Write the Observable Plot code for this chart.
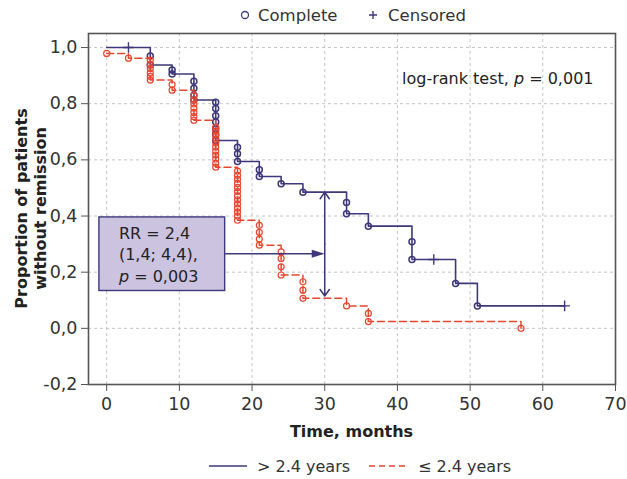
<!DOCTYPE html>
<html><head><meta charset="utf-8">
<script src="https://cdn.jsdelivr.net/npm/d3@7"></script>
<script src="https://cdn.jsdelivr.net/npm/@observablehq/plot@0.6"></script>
<style>
body{margin:0;background:#fff;}
#wrap{position:relative;width:627px;height:479px;overflow:hidden;}
</style></head><body><div id="wrap"></div>
<script>
// ---- data ----
const xTicks = [0, 10, 20, 30, 40, 50, 60, 70];
const yTicks = [-0.2, 0, 0.2, 0.4, 0.6, 0.8, 1.0];
const groupLabels = ["> 2.4 years", "\u2264 2.4 years"];
const markerLabels = ["Complete", "Censored"];

// group > 2.4 years (solid)
const blueStepT = [0, 6, 9, 12, 15, 18, 21, 24, 27, 33, 36, 42, 48, 51, 63];
const blueStepS = [1.0, 0.938, 0.906, 0.813, 0.669, 0.594, 0.541, 0.515, 0.485, 0.408, 0.364, 0.245, 0.16, 0.08, 0.08];
const blueEvents = [
  [6, [0.97, 0.938]], [9, [0.92, 0.906]], [12, [0.88, 0.855, 0.83, 0.813]],
  [15, [0.805, 0.783, 0.757, 0.735, 0.71, 0.69, 0.669]], [18, [0.645, 0.622, 0.594]],
  [21, [0.565, 0.541]], [24, [0.515]], [27, [0.485]], [33, [0.448, 0.408]],
  [36, [0.364]], [42, [0.308, 0.245]], [48, [0.16]], [51, [0.08]]
];
const blueCensT = [3, 45, 63];
const blueCensS = [1.0, 0.245, 0.08];

// group <= 2.4 years (dashed)
const redStepT = [0, 3, 6, 9, 12, 15, 18, 21, 24, 27, 33, 36, 57];
const redStepS = [0.979, 0.962, 0.884, 0.848, 0.741, 0.574, 0.385, 0.296, 0.19, 0.107, 0.08, 0.024, 0.0];
const redEvents = [
  [0, [0.979]], [3, [0.962]], [6, [0.955, 0.94, 0.925, 0.91, 0.897, 0.884]],
  [9, [0.868, 0.848]], [12, [0.829, 0.814, 0.799, 0.784, 0.769, 0.754, 0.741]],
  [15, [0.716, 0.702, 0.688, 0.674, 0.66, 0.645, 0.631, 0.617, 0.603, 0.588, 0.574]],
  [18, [0.56, 0.545, 0.531, 0.516, 0.502, 0.487, 0.472, 0.458, 0.443, 0.428, 0.414, 0.4, 0.385]],
  [21, [0.367, 0.342, 0.318, 0.296]], [24, [0.272, 0.249, 0.219, 0.19]],
  [27, [0.166, 0.136, 0.107]], [33, [0.08]], [36, [0.053, 0.024]], [57, [0.0]]
];

// annotations
const rrText = ["RR = 2,4", "(1,4; 4,4),", " = 0,003"];
const logRankText = ["log-rank test, ", "p", " = 0,001"];
const rrBox = {x1: -1, x2: 16.3, y1: 0.133, y2: 0.395};
const rrArrowY = 0.266;
const diffAt = 30, diffTop = 0.485, diffBottom = 0.115;

// ---- build tables ----
const blue = "#3d387a", red = "#e8462e", axisGray = "#555", textGray = "#333";
const blueSteps = blueStepT.map((t, i) => ({t, s: blueStepS[i]}));
const redSteps = redStepT.map((t, i) => ({t, s: redStepS[i]}));
const flat = ev => ev.flatMap(([t, ss]) => ss.map(s => ({t, s})));
const blueDots = flat(blueEvents), redDots = flat(redEvents);
const blueCens = blueCensT.map((t, i) => ({t, s: blueCensS[i]}));
const fmt = d => d.toFixed(1).replace(".", ",");

const headRight = {draw(ctx) { ctx.moveTo(0, 0); ctx.lineTo(-13, -4); ctx.lineTo(-13, 4); ctx.closePath(); }};
const mid = (diffTop + diffBottom) / 2;

const plot = Plot.plot({
  width: 627, height: 479,
  marginLeft: 88, marginRight: 12, marginTop: 33, marginBottom: 95,
  style: {fontFamily: '"DejaVu Sans", sans-serif', fontSize: "17px", background: "white", color: textGray},
  x: {domain: [-2.5, 70]},
  y: {domain: [-0.2, 1.05]},
  marks: [
    Plot.ruleX(xTicks, {x: d => d, stroke: "#bdbdbd", strokeDasharray: "3,3", strokeWidth: 0.9}),
    Plot.ruleY(yTicks, {y: d => d, stroke: "#bdbdbd", strokeDasharray: "3,3", strokeWidth: 0.9}),
    Plot.axisX(xTicks, {tickSize: 7, tickPadding: 6, label: null, stroke: axisGray, fill: textGray, fontSize: 17.5}),
    Plot.axisY(yTicks, {tickSize: 7, tickPadding: 4, label: null, tickFormat: fmt, stroke: axisGray, fill: textGray, fontSize: 17.5}),
    Plot.line(blueSteps, {x: "t", y: "s", curve: "step-after", stroke: blue, strokeWidth: 1.6}),
    Plot.dot(blueDots, {x: "t", y: "s", r: 3, stroke: blue, strokeWidth: 1.5, fill: "none"}),
    Plot.dot(blueCens, {x: "t", y: "s", symbol: "plus", r: 3.5, stroke: blue, strokeWidth: 1.4}),
    Plot.line(redSteps, {x: "t", y: "s", curve: "step-after", stroke: red, strokeWidth: 1.5, strokeDasharray: "7,4"}),
    Plot.dot(redDots, {x: "t", y: "s", r: 3, stroke: red, strokeWidth: 1.2, fill: "none"}),
    Plot.rect([rrBox], {x1: "x1", x2: "x2", y1: "y1", y2: "y2", fill: "#cbc3df", stroke: blue, strokeWidth: 1.4}),
    Plot.link([{x1: rrBox.x2, x2: diffAt - 1.2}], {x1: "x1", x2: "x2", y1: rrArrowY, y2: rrArrowY, stroke: blue, strokeWidth: 1.5}),
    Plot.dot([{x: diffAt, y: rrArrowY}], {x: "x", y: "y", symbol: headRight, fill: blue, stroke: "none"}),
    Plot.arrow([{x1: diffAt, y1: mid, x2: diffAt, y2: diffTop}, {x1: diffAt, y1: mid, x2: diffAt, y2: diffBottom}],
      {x1: "x1", y1: "y1", x2: "x2", y2: "y2", stroke: blue, strokeWidth: 1.5, headLength: 8, headAngle: 70}),
    Plot.frame({stroke: axisGray, strokeWidth: 1.6})
  ]
});
document.getElementById("wrap").appendChild(plot);

// ---- text and legends ----
const svg = d3.select(plot);
const sx = plot.scale("x"), sy = plot.scale("y");
const X = v => sx.apply(v), Y = v => sy.apply(v);
const font = '"DejaVu Sans", sans-serif';
const txt = (size, fill) => svg.append("text").attr("font-family", font).attr("font-size", size)
  .attr("fill", fill).attr("text-anchor", "start");

// RR box text
const bx = X(rrBox.x1) + 20;
const by = Y(rrBox.y2);
const t1 = txt(16, "#222");
t1.append("tspan").attr("x", bx).attr("y", by + 22).text(rrText[0]);
t1.append("tspan").attr("x", bx).attr("y", by + 43.5).text(rrText[1]);
const l3 = t1.append("tspan").attr("x", bx).attr("y", by + 65);
l3.append("tspan").attr("font-style", "italic").text("p");
l3.append("tspan").text(rrText[2]);

// log-rank text
const lr = txt(16, "#222").attr("x", X(40.7)).attr("y", Y(0.87));
lr.append("tspan").text(logRankText[0]);
lr.append("tspan").attr("font-style", "italic").text(logRankText[1]);
lr.append("tspan").text(logRankText[2]);

// axis titles
txt(16, "#222").attr("font-weight", "bold").attr("text-anchor", "middle")
  .attr("x", (88 + 615) / 2).attr("y", 437).text("Time, months");
const yc = (33 + 384) / 2;
txt(16, "#222").attr("font-weight", "bold").attr("text-anchor", "middle")
  .attr("transform", `translate(27,${yc}) rotate(-90)`).text("Proportion of patients");
txt(16, "#222").attr("font-weight", "bold").attr("text-anchor", "middle")
  .attr("transform", `translate(46,${yc}) rotate(-90)`).text("without remission");

// top legend
svg.append("circle").attr("cx", 245).attr("cy", 15).attr("r", 3.5).attr("fill", "none").attr("stroke", blue).attr("stroke-width", 1.3);
txt(16.5, textGray).attr("x", 258).attr("y", 21).text(markerLabels[0]);
svg.append("path").attr("d", "M369,15h8M373,11v8").attr("stroke", blue).attr("stroke-width", 1.4);
txt(16.5, textGray).attr("x", 388).attr("y", 21).text(markerLabels[1]);

// bottom legend
svg.append("line").attr("x1", 209).attr("x2", 247).attr("y1", 466).attr("y2", 466).attr("stroke", blue).attr("stroke-width", 1.6);
txt(16, textGray).attr("x", 257).attr("y", 472).text(groupLabels[0]);
svg.append("line").attr("x1", 369).attr("x2", 408).attr("y1", 466).attr("y2", 466).attr("stroke", red).attr("stroke-width", 1.5).attr("stroke-dasharray", "6,4");
txt(16, textGray).attr("x", 418).attr("y", 472).text(groupLabels[1]);
</script></body></html>
